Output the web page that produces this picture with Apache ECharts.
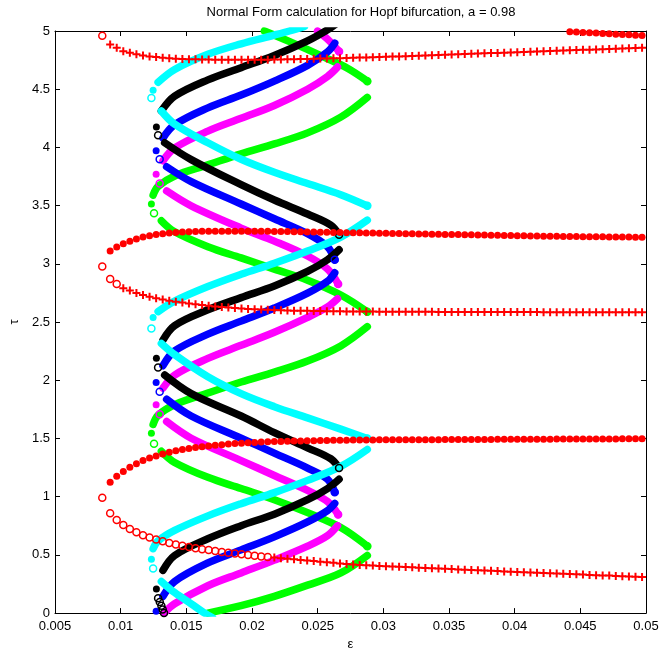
<!DOCTYPE html>
<html>
<head>
<meta charset="utf-8">
<title>Normal Form calculation for Hopf bifurcation</title>
<script src="https://cdn.jsdelivr.net/npm/echarts@6/dist/echarts.min.js"></script>
<style>
  html, body { margin: 0; padding: 0; background: #fff; }
  #main { width: 662px; height: 656px; }
</style>
</head>
<body>
<div id="main"></div>
<script>
// epsilon grid of the red branch markers
var RED_X = [0.0086, 0.0092, 0.0097, 0.0102, 0.0107, 0.0112, 0.0117, 0.0122, 0.0127, 0.0132,
  0.0137, 0.0142, 0.0147, 0.0152, 0.0157, 0.0162, 0.0167, 0.0172, 0.0177, 0.0182,
  0.0187, 0.0192, 0.0197, 0.0202, 0.0207, 0.0212, 0.0217, 0.0222, 0.0227, 0.0232,
  0.0237, 0.0242, 0.0247, 0.0252, 0.0257, 0.0262, 0.0267, 0.0272, 0.0277, 0.0282,
  0.0287, 0.0292, 0.0297, 0.0302, 0.0307, 0.0312, 0.0317, 0.0322, 0.0327, 0.0332,
  0.0337, 0.0342, 0.0347, 0.0352, 0.0357, 0.0362, 0.0367, 0.0372, 0.0377, 0.0382,
  0.0387, 0.0392, 0.0397, 0.0402, 0.0407, 0.0412, 0.0417, 0.0422, 0.0427, 0.0432,
  0.0437, 0.0442, 0.0447, 0.0452, 0.0457, 0.0462, 0.0467, 0.0472, 0.0477, 0.0482,
  0.0487, 0.0492, 0.0497];

// red branch near tau = 1 (lower arm starts at the tip, upper arm at RED_X[1])
var R1_LOWER = [0.99, 0.858, 0.80, 0.757, 0.723, 0.695, 0.668, 0.65, 0.633, 0.617,
  0.603, 0.59, 0.579, 0.568, 0.558, 0.549, 0.541, 0.533, 0.525, 0.518,
  0.511, 0.505, 0.499, 0.493, 0.487, 0.482, 0.477, 0.472, 0.467, 0.462,
  0.457, 0.452, 0.447, 0.442, 0.437, 0.432, 0.427, 0.422, 0.418, 0.414,
  0.41, 0.408, 0.405, 0.403, 0.40, 0.398, 0.395, 0.393, 0.39, 0.388,
  0.385, 0.383, 0.38, 0.378, 0.375, 0.373, 0.37, 0.368, 0.366, 0.363,
  0.361, 0.358, 0.356, 0.354, 0.351, 0.349, 0.347, 0.344, 0.342, 0.34,
  0.337, 0.335, 0.333, 0.331, 0.328, 0.326, 0.324, 0.322, 0.319, 0.317,
  0.315, 0.313, 0.31];
var R1_UPPER = [1.124, 1.175, 1.217, 1.252, 1.283, 1.31, 1.332, 1.35, 1.367, 1.381,
  1.394, 1.405, 1.414, 1.422, 1.429, 1.436, 1.442, 1.447, 1.452, 1.456,
  1.46, 1.463, 1.466, 1.469, 1.471, 1.473, 1.475, 1.477, 1.478, 1.479,
  1.48, 1.481, 1.482, 1.483, 1.484, 1.485, 1.485, 1.486, 1.486, 1.487,
  1.487, 1.488, 1.488, 1.488, 1.489, 1.489, 1.489, 1.49, 1.49, 1.49,
  1.49, 1.491, 1.491, 1.491, 1.491, 1.492, 1.492, 1.492, 1.492, 1.493,
  1.493, 1.493, 1.493, 1.494, 1.494, 1.494, 1.494, 1.494, 1.495, 1.495,
  1.495, 1.495, 1.495, 1.496, 1.496, 1.496, 1.496, 1.496, 1.497, 1.497,
  1.497, 1.497];
// red branch near tau = 3
var R3_LOWER = [2.977, 2.87, 2.827, 2.79, 2.77, 2.75, 2.732, 2.718, 2.705, 2.694,
  2.684, 2.675, 2.667, 2.659, 2.652, 2.646, 2.64, 2.634, 2.629, 2.624,
  2.62, 2.616, 2.613, 2.61, 2.607, 2.605, 2.603, 2.601, 2.6, 2.598,
  2.597, 2.596, 2.595, 2.594, 2.593, 2.592, 2.592, 2.591, 2.591, 2.59,
  2.59, 2.59, 2.589, 2.589, 2.589, 2.589, 2.588, 2.588, 2.588, 2.588,
  2.588, 2.587, 2.587, 2.587, 2.587, 2.587, 2.587, 2.587, 2.586, 2.586,
  2.586, 2.586, 2.586, 2.586, 2.586, 2.586, 2.586, 2.585, 2.585, 2.585,
  2.585, 2.585, 2.585, 2.585, 2.585, 2.585, 2.585, 2.585, 2.585, 2.585,
  2.585, 2.585, 2.585];
var R3_UPPER = [3.11, 3.144, 3.172, 3.195, 3.214, 3.231, 3.242, 3.251, 3.259, 3.265,
  3.27, 3.273, 3.276, 3.278, 3.279, 3.28, 3.281, 3.281, 3.281, 3.281,
  3.281, 3.28, 3.28, 3.279, 3.279, 3.278, 3.277, 3.277, 3.276, 3.275,
  3.274, 3.273, 3.272, 3.271, 3.27, 3.269, 3.268, 3.267, 3.266, 3.265,
  3.264, 3.263, 3.262, 3.261, 3.26, 3.259, 3.258, 3.257, 3.256, 3.255,
  3.254, 3.253, 3.252, 3.251, 3.25, 3.249, 3.248, 3.247, 3.246, 3.245,
  3.244, 3.243, 3.242, 3.241, 3.24, 3.239, 3.238, 3.237, 3.236, 3.235,
  3.234, 3.234, 3.233, 3.233, 3.232, 3.232, 3.231, 3.231, 3.23, 3.23,
  3.229, 3.229];
// red branch near tau = 5 (upper arm only visible from RED_X[71])
var R5_LOWER = [4.96, 4.884, 4.856, 4.827, 4.813, 4.80, 4.79, 4.782, 4.776, 4.77,
  4.765, 4.762, 4.76, 4.758, 4.757, 4.756, 4.755, 4.754, 4.754, 4.753,
  4.753, 4.753, 4.753, 4.753, 4.754, 4.754, 4.755, 4.756, 4.757, 4.758,
  4.759, 4.76, 4.761, 4.763, 4.764, 4.766, 4.767, 4.769, 4.77, 4.772,
  4.773, 4.775, 4.777, 4.779, 4.78, 4.782, 4.784, 4.786, 4.788, 4.79,
  4.792, 4.794, 4.796, 4.798, 4.8, 4.802, 4.804, 4.806, 4.808, 4.81,
  4.812, 4.814, 4.816, 4.818, 4.82, 4.822, 4.824, 4.826, 4.828, 4.83,
  4.832, 4.834, 4.836, 4.838, 4.84, 4.842, 4.844, 4.846, 4.848, 4.85,
  4.852, 4.854, 4.856];
var R5_UPPER = [4.994, 4.991, 4.988, 4.985, 4.982, 4.979, 4.976, 4.973, 4.970, 4.967, 4.964, 4.962];

// coloured branches: [epsilon, tau] read along each arm
var BLACK_UP = [
  [[0.01272, 0.208], [0.01322, 0.367], [0.01411, 0.495], [0.01664, 0.639], [0.01917, 0.751], [0.0217, 0.85], [0.02423, 0.974], [0.02575, 1.07], [0.02663, 1.15]],
  [[0.01272, 2.19], [0.01322, 2.345], [0.01411, 2.47], [0.01664, 2.605], [0.01917, 2.71], [0.0217, 2.81], [0.02423, 2.935], [0.02575, 3.035], [0.02663, 3.121]],
  [[0.01272, 4.176], [0.0131, 4.313], [0.01411, 4.44], [0.01664, 4.58], [0.01917, 4.685], [0.0217, 4.79], [0.02423, 4.915], [0.02575, 5.01], [0.0265, 5.07]]
];
var BLACK_LOW = [
  [[0.01285, 2.109], [0.01335, 2.045], [0.01537, 1.885], [0.01917, 1.693], [0.0217, 1.55], [0.02423, 1.42], [0.026, 1.326], [0.02663, 1.246]],
  [[0.01285, 4.105], [0.01335, 4.04], [0.01537, 3.895], [0.01917, 3.68], [0.0217, 3.548], [0.02423, 3.428], [0.026, 3.333], [0.02663, 3.25]]
];
var BLACK_RINGS = [[0.01285, 0.128], [0.01298, 0.095], [0.0131, 0.064], [0.0132, 0.03], [0.0133, 0.0]];

var BLUE_UP = [
  [[0.0127, 0.016], [0.01322, 0.144], [0.01411, 0.272], [0.01664, 0.431], [0.01917, 0.543], [0.0217, 0.655], [0.02423, 0.783], [0.02575, 0.88], [0.0263, 0.942]],
  [[0.0127, 1.981], [0.01322, 2.125], [0.01411, 2.252], [0.01664, 2.396], [0.01917, 2.508], [0.0217, 2.62], [0.02423, 2.748], [0.02575, 2.85], [0.0263, 2.923]],
  [[0.0127, 3.971], [0.01322, 4.08], [0.01411, 4.195], [0.01664, 4.34], [0.01917, 4.45], [0.0217, 4.57], [0.02423, 4.705], [0.02575, 4.82], [0.0263, 4.895]]
];
var BLUE_LOW = [
  [[0.01297, 1.901], [0.0135, 1.837], [0.01537, 1.693], [0.01917, 1.502], [0.0217, 1.374], [0.02423, 1.246], [0.02575, 1.15], [0.0263, 1.038]],
  [[0.01297, 3.898], [0.0135, 3.834], [0.01537, 3.706], [0.01917, 3.514], [0.0217, 3.387], [0.02423, 3.259], [0.02575, 3.147], [0.0263, 3.035]]
];

var MAGENTA_UP = [
  [[0.0130, -0.1], [0.0133, 0.0], [0.01411, 0.08], [0.01664, 0.235], [0.01917, 0.345], [0.0217, 0.455], [0.02423, 0.575], [0.02575, 0.665], [0.02651, 0.751]],
  [[0.0127, 1.789], [0.01322, 1.933], [0.01411, 2.045], [0.01664, 2.188], [0.01917, 2.30], [0.0217, 2.412], [0.02423, 2.54], [0.02575, 2.63], [0.02651, 2.70]],
  [[0.0127, 3.77], [0.01322, 3.885], [0.01411, 3.995], [0.01664, 4.14], [0.01917, 4.25], [0.0217, 4.36], [0.02423, 4.50], [0.02575, 4.61], [0.02651, 4.69]]
];
var MAGENTA_LOW = [
  [[0.01297, 1.709], [0.0135, 1.645], [0.01537, 1.502], [0.01917, 1.31], [0.0217, 1.182], [0.02423, 1.054], [0.02575, 0.958], [0.02656, 0.847]],
  [[0.01297, 3.69], [0.0135, 3.626], [0.01537, 3.498], [0.01917, 3.307], [0.0217, 3.195], [0.02423, 3.067], [0.02575, 2.955], [0.02656, 2.827]],
  [[0.0245, 5.03], [0.02499, 5.0], [0.02575, 4.93], [0.02663, 4.824]]
];

var CYAN_UP = [
  [[0.01234, 0.463], [0.01247, 0.553], [0.01285, 0.62], [0.01411, 0.71], [0.01664, 0.835], [0.01917, 0.94], [0.0217, 1.035], [0.02423, 1.14], [0.02676, 1.26], [0.02878, 1.405]],
  [[0.01247, 2.54], [0.01285, 2.59], [0.01411, 2.68], [0.01664, 2.805], [0.01917, 2.91], [0.0217, 3.005], [0.02423, 3.11], [0.02676, 3.23], [0.02878, 3.375]],
  [[0.01247, 4.49], [0.01285, 4.56], [0.01411, 4.67], [0.01664, 4.80], [0.01917, 4.89], [0.0217, 4.965], [0.02284, 5.0], [0.024, 5.04]]
];
var CYAN_LOW = [
  [[0.01247, 0.383], [0.0131, 0.272], [0.01411, 0.176], [0.01537, 0.08], [0.01639, 0.0], [0.017, -0.04]],
  [[0.01234, 2.444], [0.0131, 2.316], [0.01411, 2.22], [0.01664, 2.03], [0.01917, 1.885], [0.0217, 1.773], [0.02423, 1.677], [0.02676, 1.58], [0.02878, 1.50]],
  [[0.01234, 4.425], [0.0131, 4.313], [0.01411, 4.20], [0.01664, 4.04], [0.01917, 3.898], [0.0217, 3.786], [0.02423, 3.69], [0.02676, 3.594], [0.02878, 3.498]]
];

var GREEN_UP = [
  [[0.0160, -0.03], [0.01664, 0.0], [0.01917, 0.064], [0.0217, 0.144], [0.02423, 0.24], [0.02676, 0.345], [0.02878, 0.495]],
  [[0.01234, 1.545], [0.01247, 1.62], [0.01285, 1.70], [0.01411, 1.79], [0.01664, 1.89], [0.01917, 1.985], [0.0217, 2.07], [0.02423, 2.165], [0.02676, 2.295], [0.02878, 2.46]],
  [[0.01234, 3.514], [0.01247, 3.59], [0.01285, 3.665], [0.01411, 3.755], [0.01664, 3.85], [0.01917, 3.945], [0.0217, 4.03], [0.02423, 4.125], [0.02676, 4.26], [0.02878, 4.43]]
];
var GREEN_LOW = [
  [[0.01254, 1.454], [0.0131, 1.39], [0.01411, 1.294], [0.01664, 1.166], [0.01917, 1.07], [0.0217, 0.974], [0.02423, 0.863], [0.02676, 0.735], [0.02878, 0.575]],
  [[0.01254, 3.434], [0.0131, 3.37], [0.01411, 3.275], [0.01664, 3.147], [0.01917, 3.051], [0.0217, 2.955], [0.02423, 2.859], [0.02676, 2.732], [0.02878, 2.588]],
  [[0.0205, 5.03], [0.02094, 5.0], [0.02296, 4.904], [0.02549, 4.776], [0.02727, 4.68], [0.02878, 4.569]]
];

var FONT = '"Liberation Sans", Arial, Helvetica, sans-serif';
var PLUS = 'path://M0,5L10,5M5,0L5,10';

var series = [];

function armLine(pts, color) {
  series.push({
    type: 'line', data: pts, smooth: 0.35, symbol: 'none', silent: true,
    lineStyle: { color: color, width: 7.5, cap: 'round', join: 'round', opacity: 1 }
  });
}
function marks(pts, color, kind, z) {
  var s = { type: 'scatter', data: pts, silent: true, symbolSize: 7, z: z || 3 };
  if (kind === 'dot') {
    s.symbol = 'circle';
    s.itemStyle = { color: color, opacity: 1 };
  } else if (kind === 'ring') {
    s.symbol = 'circle';
    s.itemStyle = { color: 'rgba(0,0,0,0)', borderColor: color, borderWidth: 1.5, opacity: 1 };
  } else {
    s.symbol = PLUS;
    s.symbolSize = 8;
    s.itemStyle = { color: 'rgba(0,0,0,0)', borderColor: color, borderWidth: 2, opacity: 1 };
  }
  series.push(s);
}
// upper arms: filled tip dot, then dense band
function upperArms(arms, color) {
  arms.forEach(function (a) {
    armLine(a.slice(1), color);
    marks([a[0]], color, 'dot');
  });
}
// lower arms: open circles at both ends, dense band between
function lowerArms(arms, color) {
  arms.forEach(function (a) {
    armLine(a.slice(1), color);
    marks([a[0], a[a.length - 1]], color, 'ring');
  });
}

upperArms(GREEN_UP, '#00ff00'); lowerArms(GREEN_LOW, '#00ff00');
upperArms(MAGENTA_UP, '#ff00ff'); lowerArms(MAGENTA_LOW, '#ff00ff');
upperArms(BLUE_UP, '#0000ff'); lowerArms(BLUE_LOW, '#0000ff');
upperArms(BLACK_UP, '#000000'); lowerArms(BLACK_LOW, '#000000'); marks(BLACK_RINGS, '#000000', 'ring');
upperArms(CYAN_UP, '#00ffff'); lowerArms(CYAN_LOW, '#00ffff');

// red branches, drawn on top
function redPts(ys, start, from, to) {
  var out = [];
  for (var i = from; i < to; i++) out.push([RED_X[start + i], ys[i]]);
  return out;
}
var RED = '#ff0000';
marks(redPts(R1_UPPER, 1, 0, R1_UPPER.length), RED, 'dot', 5);
marks(redPts(R1_LOWER, 0, 0, 26), RED, 'ring', 5);
marks(redPts(R1_LOWER, 0, 26, R1_LOWER.length), RED, 'plus', 5);
marks(redPts(R3_UPPER, 1, 0, R3_UPPER.length), RED, 'dot', 5);
marks(redPts(R3_LOWER, 0, 0, 3), RED, 'ring', 5);
marks(redPts(R3_LOWER, 0, 3, R3_LOWER.length), RED, 'plus', 5);
marks(redPts(R5_UPPER, 71, 0, R5_UPPER.length), RED, 'dot', 5);
marks(redPts(R5_LOWER, 0, 0, 1), RED, 'ring', 5);
marks(redPts(R5_LOWER, 0, 1, R5_LOWER.length), RED, 'plus', 5);

var axisCommon = {
  axisLine: { show: true, onZero: false, lineStyle: { color: '#000', width: 1 } },
  axisTick: { show: true, inside: true, length: 5, lineStyle: { color: '#000' } },
  splitLine: { show: false }
};
function axis(extra) { return Object.assign({}, JSON.parse(JSON.stringify(axisCommon)), extra); }

var chart = echarts.init(document.getElementById('main'));
chart.setOption({
  animation: false,
  backgroundColor: '#fff',
  title: {
    text: 'Normal Form calculation for Hopf bifurcation, a = 0.98',
    left: 356, top: 1, textAlign: 'center',
    textStyle: { fontFamily: FONT, fontSize: 13, fontWeight: 'normal', color: '#000' }
  },
  grid: { left: 53, top: 31, width: 593, height: 589 },
  xAxis: [
    axis({ type: 'value', min: 0.005, max: 0.05, interval: 0.005, position: 'bottom',
      name: 'ε', nameLocation: 'middle', nameGap: 15,
      nameTextStyle: { fontFamily: FONT, fontSize: 13, color: '#000' },
      axisLabel: { fontFamily: FONT, fontSize: 13, color: '#000', margin: 7,
        formatter: function (v) { return String(parseFloat(v.toFixed(4))); } } }),
    axis({ type: 'value', min: 0.005, max: 0.05, interval: 0.005, position: 'top', axisLabel: { show: false } })
  ],
  yAxis: [
    axis({ type: 'value', min: 0, max: 5, interval: 0.5, position: 'left',
      name: 'τ', nameLocation: 'middle', nameGap: 34, nameRotate: 90,
      nameTextStyle: { fontFamily: FONT, fontSize: 13, color: '#000' },
      axisLabel: { fontFamily: FONT, fontSize: 13, color: '#000', margin: 5 } }),
    axis({ type: 'value', min: 0, max: 5, interval: 0.5, position: 'right', axisLabel: { show: false } })
  ],
  series: series
});
</script>
</body>
</html>
